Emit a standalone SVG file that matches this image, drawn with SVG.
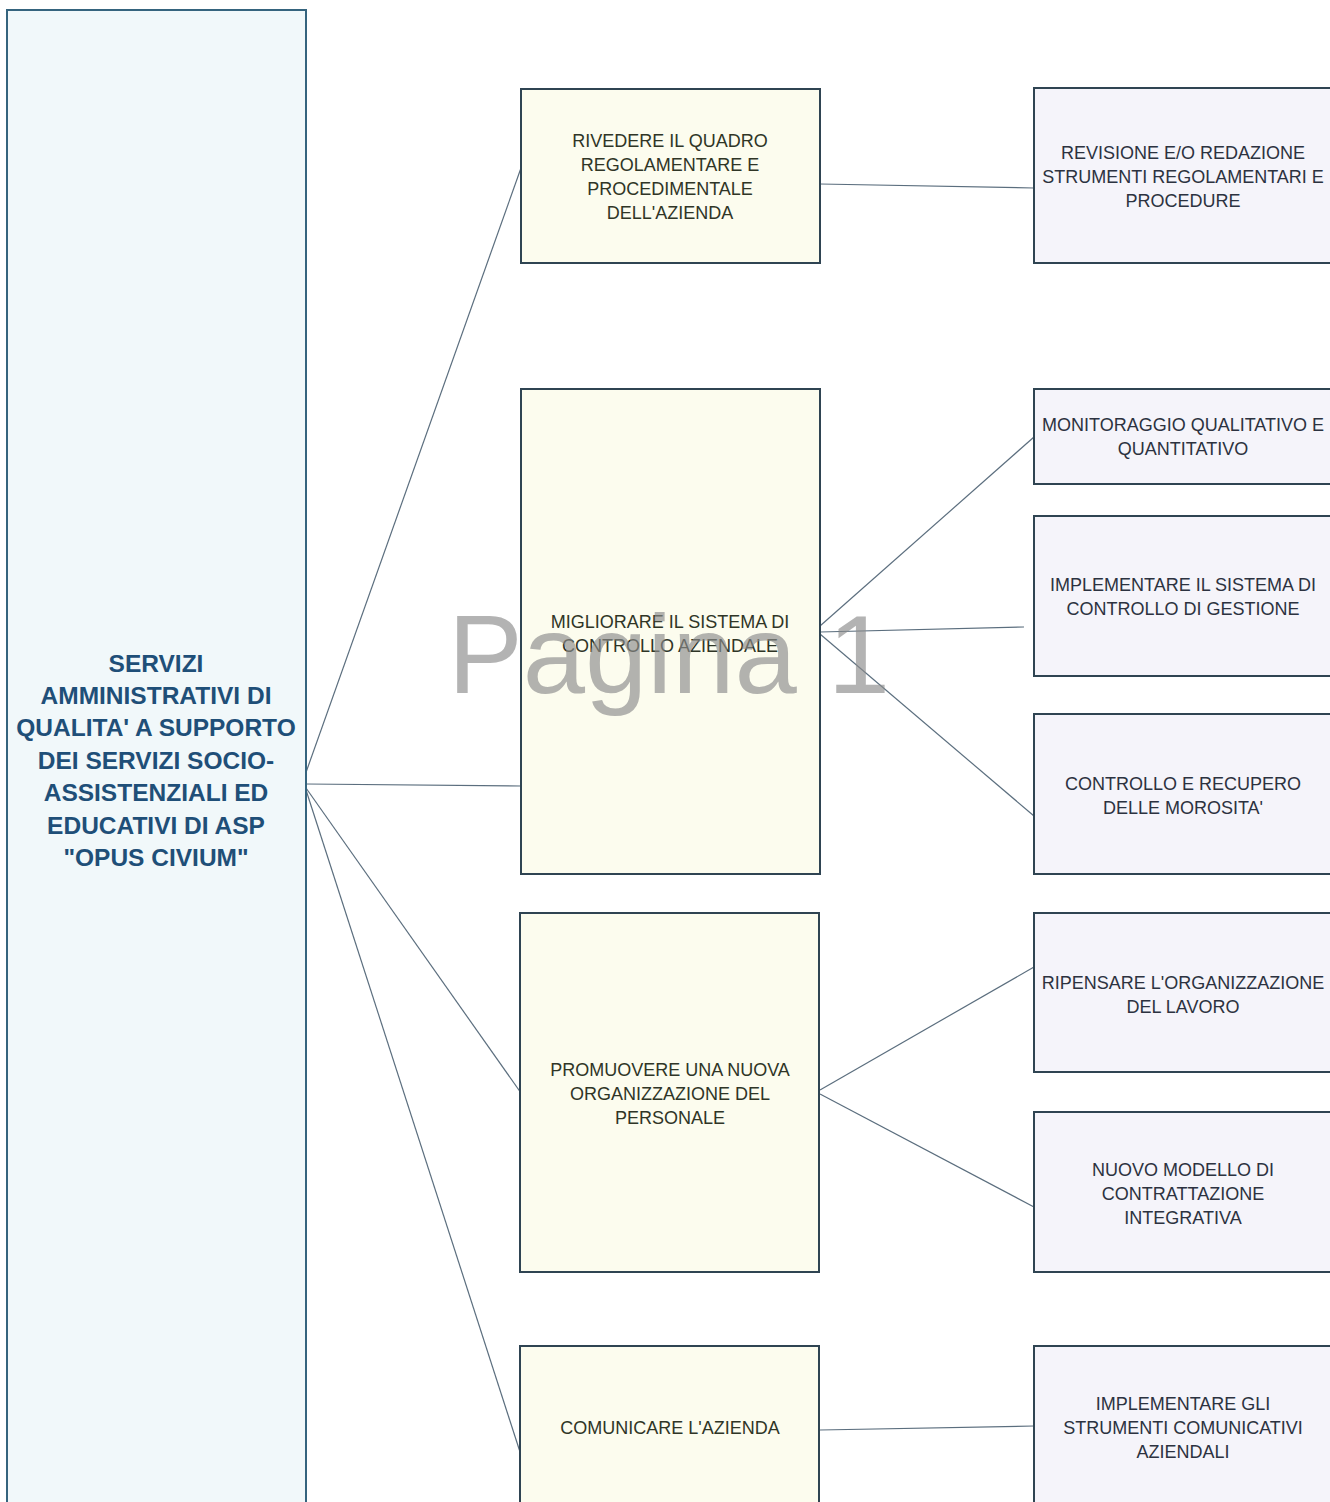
<svg xmlns="http://www.w3.org/2000/svg" width="1330" height="1502" viewBox="0 0 1330 1502">
<style>
.bg{fill:#ffffff}
.root{fill:#f1f8fa;stroke:#35647e;stroke-width:2}
.mid{fill:#fcfcee;stroke:#2f4452;stroke-width:2}
.leaf{fill:#f5f4fa;stroke:#2f4452;stroke-width:2}
.rt{font-family:"Liberation Sans",Arial,sans-serif;font-weight:bold;font-size:24.5px;fill:#1f4f78;text-anchor:middle}
.t{font-family:"Liberation Sans",Arial,sans-serif;font-size:18px;fill:#2f3526;text-anchor:middle}
.lt{font-family:"Liberation Sans",Arial,sans-serif;font-size:18px;fill:#2c3240;text-anchor:middle}
.c{stroke:#5b6e7e;stroke-width:1.2;fill:none}
.wm{font-family:"Liberation Sans",Arial,sans-serif;font-size:112px;fill:#8c8c8c;opacity:0.65}
</style>
<rect class="bg" x="0" y="0" width="1330" height="1502"/>
<g id="connectors">
<line class="c" x1="304" y1="778" x2="521" y2="168"/>
<line class="c" x1="306" y1="784" x2="521" y2="786"/>
<line class="c" x1="306" y1="788" x2="521" y2="1093"/>
<line class="c" x1="306" y1="790" x2="521" y2="1455"/>
<line class="c" x1="820" y1="184" x2="1034" y2="188"/>
<line class="c" x1="820" y1="626" x2="1034" y2="437"/>
<line class="c" x1="820" y1="632" x2="1024" y2="627"/>
<line class="c" x1="820" y1="634" x2="1034" y2="816"/>
<line class="c" x1="820" y1="1090" x2="1034" y2="967"/>
<line class="c" x1="820" y1="1094" x2="1034" y2="1207"/>
<line class="c" x1="820" y1="1430" x2="1034" y2="1426"/>
</g>
<g id="root">
<rect class="root" x="7" y="10" width="299" height="1500"/>
<text class="rt" x="156" y="672">SERVIZI</text>
<text class="rt" x="156" y="704">AMMINISTRATIVI DI</text>
<text class="rt" x="156" y="736">QUALITA' A SUPPORTO</text>
<text class="rt" x="156" y="769">DEI SERVIZI SOCIO-</text>
<text class="rt" x="156" y="801">ASSISTENZIALI ED</text>
<text class="rt" x="156" y="834">EDUCATIVI DI ASP</text>
<text class="rt" x="156" y="866">"OPUS CIVIUM"</text>
</g>
<g id="m1">
<rect class="mid" x="521" y="89" width="299" height="174"/>
<text class="t" x="670" y="147">RIVEDERE IL QUADRO</text>
<text class="t" x="670" y="171">REGOLAMENTARE E</text>
<text class="t" x="670" y="195">PROCEDIMENTALE</text>
<text class="t" x="670" y="219">DELL'AZIENDA</text>
</g>
<g id="m2">
<rect class="mid" x="521" y="389" width="299" height="485"/>
<text class="t" x="670" y="628">MIGLIORARE IL SISTEMA DI</text>
<text class="t" x="670" y="652">CONTROLLO AZIENDALE</text>
</g>
<g id="m3">
<rect class="mid" x="520" y="913" width="299" height="359"/>
<text class="t" x="670" y="1076">PROMUOVERE UNA NUOVA</text>
<text class="t" x="670" y="1100">ORGANIZZAZIONE DEL</text>
<text class="t" x="670" y="1124">PERSONALE</text>
</g>
<g id="m4">
<rect class="mid" x="520" y="1346" width="299" height="170"/>
<text class="t" x="670" y="1434">COMUNICARE L'AZIENDA</text>
</g>
<g id="r1">
<rect class="leaf" x="1034" y="88" width="300" height="175"/>
<text class="lt" x="1183" y="159">REVISIONE E/O REDAZIONE</text>
<text class="lt" x="1183" y="183">STRUMENTI REGOLAMENTARI E</text>
<text class="lt" x="1183" y="207">PROCEDURE</text>
</g>
<g id="r2">
<rect class="leaf" x="1034" y="389" width="300" height="95"/>
<text class="lt" x="1183" y="431">MONITORAGGIO QUALITATIVO E</text>
<text class="lt" x="1183" y="455">QUANTITATIVO</text>
</g>
<g id="r3">
<rect class="leaf" x="1034" y="516" width="300" height="160"/>
<text class="lt" x="1183" y="591">IMPLEMENTARE IL SISTEMA DI</text>
<text class="lt" x="1183" y="615">CONTROLLO DI GESTIONE</text>
</g>
<g id="r4">
<rect class="leaf" x="1034" y="714" width="300" height="160"/>
<text class="lt" x="1183" y="790">CONTROLLO E RECUPERO</text>
<text class="lt" x="1183" y="814">DELLE MOROSITA'</text>
</g>
<g id="r5">
<rect class="leaf" x="1034" y="913" width="300" height="159"/>
<text class="lt" x="1183" y="989">RIPENSARE L'ORGANIZZAZIONE</text>
<text class="lt" x="1183" y="1013">DEL LAVORO</text>
</g>
<g id="r6">
<rect class="leaf" x="1034" y="1112" width="300" height="160"/>
<text class="lt" x="1183" y="1176">NUOVO MODELLO DI</text>
<text class="lt" x="1183" y="1200">CONTRATTAZIONE</text>
<text class="lt" x="1183" y="1224">INTEGRATIVA</text>
</g>
<g id="r7">
<rect class="leaf" x="1034" y="1346" width="300" height="170"/>
<text class="lt" x="1183" y="1410">IMPLEMENTARE GLI</text>
<text class="lt" x="1183" y="1434">STRUMENTI COMUNICATIVI</text>
<text class="lt" x="1183" y="1458">AZIENDALI</text>
</g>
<text class="wm" x="448" y="693">Pagina 1</text>
</svg>
